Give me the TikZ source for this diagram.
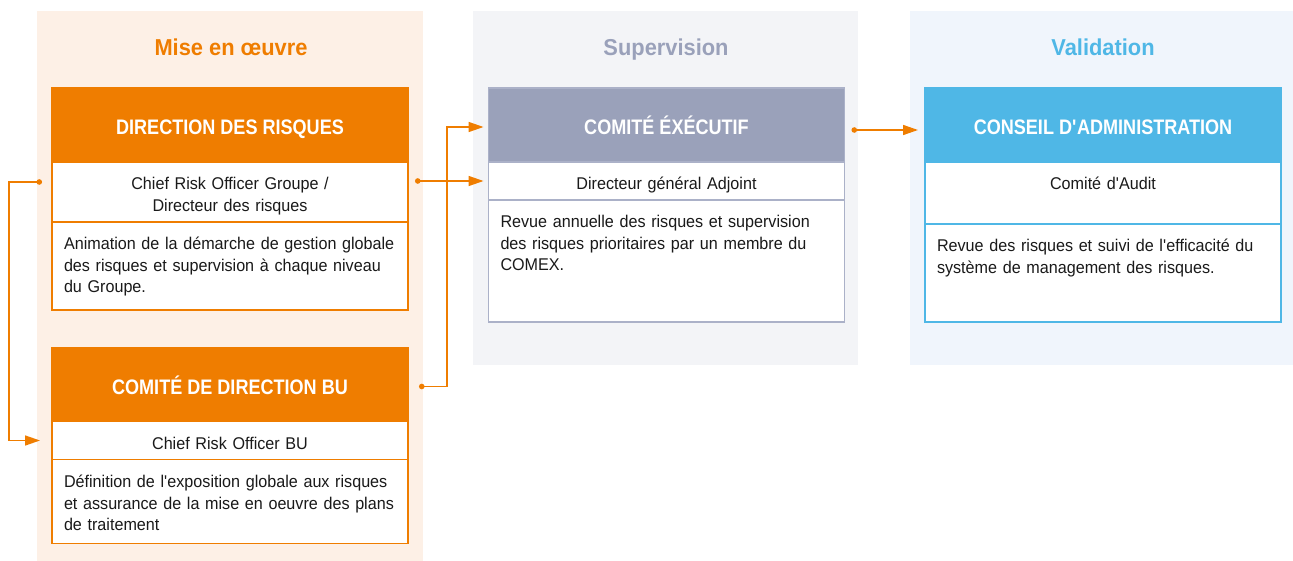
\documentclass[tikz,border=0pt]{standalone}
\usepackage{fontspec}
\setmainfont[FakeStretch=0.95]{Liberation Sans}
\newfontfamily\headfont[FakeStretch=0.86]{Liberation Sans}
\usetikzlibrary{positioning,arrows.meta}
\definecolor{orisk}{HTML}{EF7D00}
\definecolor{obg}{HTML}{FDF0E6}
\definecolor{gsup}{HTML}{9AA1BA}
\definecolor{gline}{HTML}{ABB1C8}
\definecolor{gbg}{HTML}{F3F4F7}
\definecolor{bval}{HTML}{4FB7E6}
\definecolor{bbg}{HTML}{F0F5FC}
\definecolor{txt}{HTML}{1A1A1A}
\tikzset{
  coltitle/.style={font=\fontsize{23}{27}\selectfont\bfseries, text=#1, anchor=base},
  headbox/.style={fill=#1, draw=#1, text=white, line width=1.5pt, minimum width=356pt, minimum height=74pt,
    outer sep=0pt, inner sep=0pt, text height=19pt, text depth=0pt, font=\headfont\fontsize{21}{25}\selectfont\bfseries},
  rowbox/.style={draw=#1, fill=white, line width=1.5pt, text width=332pt, inner xsep=12pt, inner ysep=10pt,
    outer sep=0pt, text height=18pt, text=txt, font=\fontsize{17}{21.5}\selectfont},
  link/.style={draw=orisk, line width=1.5pt, {Circle[length=5.5pt]}-{Triangle[length=15pt,width=10pt]}}
}
\begin{document}
\begin{tikzpicture}[x=1pt, y=-1pt]
\useasboundingbox (0,0) rectangle (1293,561);
\fill[obg] (37,11) rectangle (423,561);
\fill[gbg] (473,11) rectangle (858,365);
\fill[bbg] (910,11) rectangle (1293,365);
\node[coltitle=orisk] (titlemise) at (231,56) {Mise en œuvre};
\node[coltitle=gsup] (titlesup) at (666,56) {Supervision};
\node[coltitle=bval] (titleval) at (1103,56) {Validation};

\node[headbox=orisk] (drhead) at (230,125) {DIRECTION DES RISQUES};
\node[rowbox=orisk, align=center, text depth=22pt, below=0pt of drhead] (drsub) {Chief Risk Officer Groupe /\\Directeur des risques};
\node[rowbox=orisk, align=left, text depth=50pt, below=0pt of drsub] (drdesc) {Animation de la démarche de gestion globale\\des risques et supervision à chaque niveau\\du Groupe.};

\node[headbox=orisk] (buhead) at (230,384.5) {COMITÉ DE DIRECTION BU};
\node[rowbox=orisk, align=center, text depth=0pt, below=0pt of buhead] (busub) {Chief Risk Officer BU};
\node[rowbox=orisk, align=left, text depth=46pt, below=0pt of busub] (budesc) {Définition de l\textquotesingle exposition globale aux risques\\et assurance de la mise en oeuvre des plans\\de traitement};

\node[headbox=gsup, draw=gline] (ceohead) at (666.5,125) {COMITÉ ÉXÉCUTIF};
\node[rowbox=gline, align=center, text depth=0pt, below=0pt of ceohead] (ceosub) {Directeur général Adjoint};
\node[rowbox=gline, align=left, text depth=84pt, below=0pt of ceosub] (ceodesc) {Revue annuelle des risques et supervision\\des risques prioritaires par un membre du\\COMEX.};

\node[headbox=bval] (cahead) at (1103,125) {CONSEIL D\textquotesingle ADMINISTRATION};
\node[rowbox=bval, align=center, text depth=24pt, below=0pt of cahead] (casub) {Comité d\textquotesingle Audit};
\node[rowbox=bval, align=left, text depth=60pt, below=0pt of casub] (cadesc) {Revue des risques et suivi de l\textquotesingle efficacité du\\système de management des risques.};

\draw[link, shorten <=10pt, shorten >=12pt] ([yshift=-20pt]drsub.north west) -- ++(-43,0) |- (busub.west);
\draw[link, shorten <=7pt, shorten >=5pt] (drsub.east |- ceosub.west) -- (ceosub.west);
\draw[link, shorten <=11pt, shorten >=5pt] ([yshift=-2pt]buhead.east) -- ++(39,0) |- ([yshift=-2pt]ceohead.west);
\draw[link, shorten <=7pt, shorten >=7pt] ([yshift=-5pt]ceohead.east) -- ([yshift=-5pt]cahead.west);
\end{tikzpicture}
\end{document}
